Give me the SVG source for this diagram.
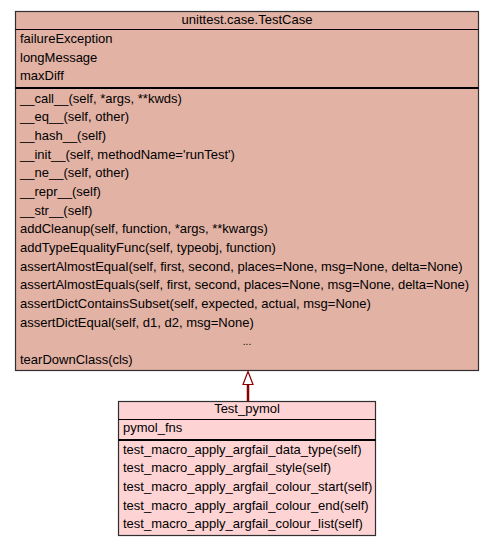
<svg xmlns="http://www.w3.org/2000/svg" width="493" height="547" viewBox="0 0 493 547">
<style>
text{font-family:"Liberation Sans",Arial,sans-serif;font-size:13px;fill:#000}
.c{text-anchor:middle}
.box{stroke:#303030;stroke-width:1.2}
.sep{stroke:#000;stroke-width:2}
.sep1{stroke:#000;stroke-width:1.2}
</style>
<rect width="493" height="547" fill="#fff"/>
<g id="TestCase">
<rect class="box" x="15.5" y="11.5" width="463" height="359" fill="#e2b2a5"/>
<line class="sep1" x1="15.5" y1="29.5" x2="478.5" y2="29.5"/>
<line class="sep" x1="15.5" y1="88" x2="478.5" y2="88"/>
<text class="c" x="247" y="24">unittest.case.TestCase</text>
<text x="20" y="43">failureException</text>
<text x="20" y="62">longMessage</text>
<text x="20" y="80">maxDiff</text>
<text x="20" y="103">__call__(self, *args, **kwds)</text>
<text x="20" y="121">__eq__(self, other)</text>
<text x="20" y="140">__hash__(self)</text>
<text x="20" y="159">__init__(self, methodName='runTest')</text>
<text x="20" y="177">__ne__(self, other)</text>
<text x="20" y="196">__repr__(self)</text>
<text x="20" y="215">__str__(self)</text>
<text x="20" y="233">addCleanup(self, function, *args, **kwargs)</text>
<text x="20" y="252">addTypeEqualityFunc(self, typeobj, function)</text>
<text x="20" y="271">assertAlmostEqual(self, first, second, places=None, msg=None, delta=None)</text>
<text x="20" y="289">assertAlmostEquals(self, first, second, places=None, msg=None, delta=None)</text>
<text x="20" y="308">assertDictContainsSubset(self, expected, actual, msg=None)</text>
<text x="20" y="327">assertDictEqual(self, d1, d2, msg=None)</text>
<text class="c" x="247" y="345" style="font-size:10px">...</text>
<text x="20" y="364">tearDownClass(cls)</text>
</g>
<g id="Test_pymol">
<rect class="box" x="118.5" y="401.5" width="257" height="134" fill="#fdd3d4"/>
<line class="sep1" x1="118.5" y1="419.5" x2="375.5" y2="419.5"/>
<line class="sep" x1="118.5" y1="440" x2="375.5" y2="440"/>
<text class="c" x="247" y="413">Test_pymol</text>
<text x="123" y="432">pymol_fns</text>
<text x="123" y="454">test_macro_apply_argfail_data_type(self)</text>
<text x="123" y="472">test_macro_apply_argfail_style(self)</text>
<text x="123" y="491">test_macro_apply_argfail_colour_start(self)</text>
<text x="123" y="510">test_macro_apply_argfail_colour_end(self)</text>
<text x="123" y="528">test_macro_apply_argfail_colour_list(self)</text>
</g>
<g id="connectors">
<line x1="248" y1="401" x2="248" y2="384" stroke="#8b0000" stroke-width="2.5"/>
<polygon points="248,371.5 243,384.5 253,384.5" fill="#fff" stroke="#8b0000" stroke-width="1.2"/>
</g>
</svg>
